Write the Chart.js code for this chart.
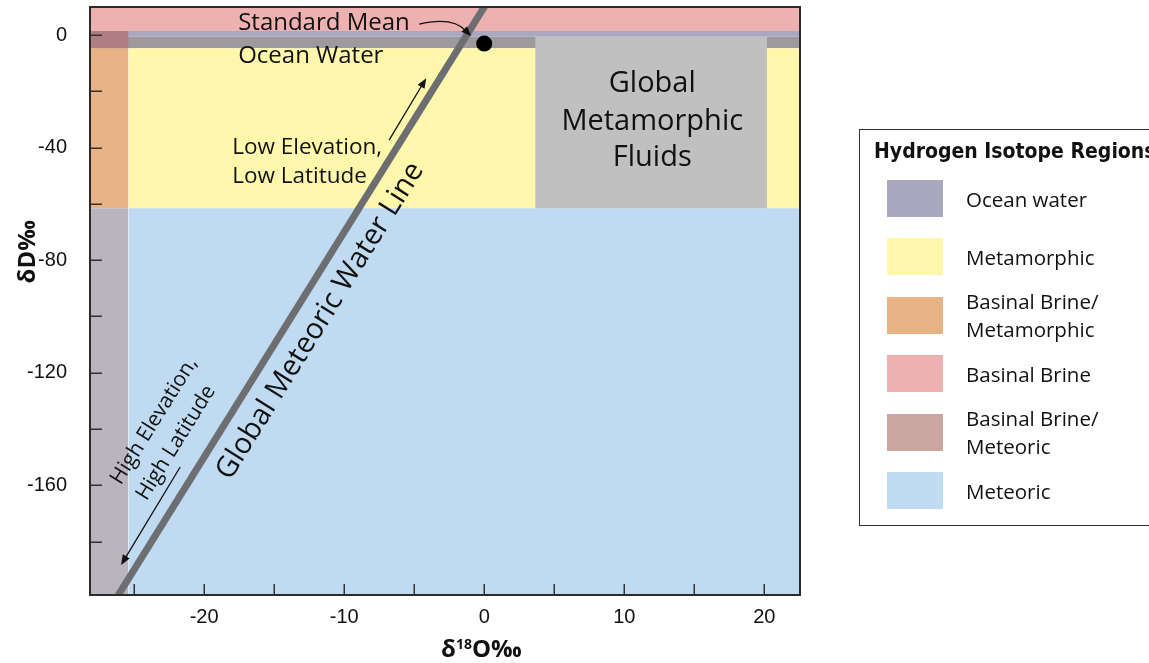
<!DOCTYPE html>
<html>
<head>
<meta charset="utf-8">
<title>Hydrogen Isotope Regions</title>
<script src="https://cdn.jsdelivr.net/npm/chart.js@4.4.1/dist/chart.umd.min.js"></script>
<style>
  html, body { margin: 0; padding: 0; background: #fff; }
  #wrap { position: relative; width: 1149px; height: 663px; overflow: hidden; }
  #c { position: absolute; left: 0; top: 0; }
  #legend {
    position: absolute; left: 859px; top: 129px; width: 330px; height: 397px;
    border: 1.5px solid #333; box-sizing: border-box; color: #111;
    font-family: "Open Sans", "Noto Sans", sans-serif;
  }
  #legend .ttl {
    position: absolute; left: 14px; top: 7px; white-space: nowrap;
    font-family: "DejaVu Sans Condensed", "DejaVu Sans", sans-serif;
    font-weight: bold; font-size: 21px; line-height: 28px; color: #111;
  }
  #legend .sw { position: absolute; left: 27px; width: 56px; height: 37px; }
  #legend .lb {
    position: absolute; left: 106px; font-size: 20.5px; line-height: 28px;
    white-space: nowrap; transform: translateY(-50%);
  }
</style>
</head>
<body>
<div id="wrap">
  <canvas id="c" width="1149" height="663"></canvas>
  <div id="legend"><div class="ttl">Hydrogen Isotope Regions</div></div>
</div>
<script>
// Axis ranges (δ18O ‰ on x, δD ‰ on y)
const xRange = [-28.15, 22.55];
const yRange = [-199, 10];

// Tick positions and their printed labels
const xTickValues = [-25, -20, -15, -10, -5, 0, 5, 10, 15, 20];
const xTickLabels = ['', '-20', '', '-10', '', '0', '', '10', '', '20'];
const yTickValues = [-180, -160, -140, -120, -100, -80, -60, -40, -20, 0];
const yTickLabels = ['', '-160', '', '-120', '', '-80', '', '-40', '', '0'];

// Isotope regions as rectangles: x from regionX0 to regionX1, y from regionY0 to regionY1
// (first entry is drawn on top)
const regionNames  = ['Global Metamorphic Fluids', 'Basinal Brine/Ocean water', 'Meteoric', 'Basinal Brine/Meteoric',
                      'Metamorphic', 'Basinal Brine/Metamorphic', 'Ocean water (core)', 'Ocean water', 'Basinal Brine'];
const regionX0     = [3.64, -28.15, -25.4, -28.15, -25.4, -28.15, -28.15, -28.15, -28.15];
const regionX1     = [20.2, -25.4, 22.55, -25.4, 22.55, -25.4, 22.55, 22.55, 22.55];
const regionY0     = [-61.5, -4.7, -199, -199, -61.5, -61.5, -4.7, -0.6, 1.5];
const regionY1     = [-0.5, 1.5, -61.5, -61.5, -4.7, -4.7, -0.6, 1.5, 10];
const regionColors = ['#c0c0c1', '#af7e82', '#c0dbf1', '#bab4bf', '#fff7ac', '#e8b384', '#9e999d', '#aaa7c0', '#ecb1b0'];

// Global Meteoric Water Line end points
const gmwlX = [-26.15, 0.05];
const gmwlY = [-199.2, 10.4];

// Standard Mean Ocean Water point
const smowX = [0];
const smowY = [-3];

// Legend entries
const legendLabels = ['Ocean water', 'Metamorphic', 'Basinal Brine/\nMetamorphic', 'Basinal Brine',
                      'Basinal Brine/\nMeteoric', 'Meteoric'];
const legendColors = ['#aaa7c0', '#fff7ac', '#e8b384', '#ecb1b0', '#c9a6a2', '#c0dbf1'];

// ---- legend (HTML box to the right of the plot) ----
const legendEl = document.getElementById('legend');
legendLabels.forEach((txt, i) => {
  const top = 50 + i * 58.4;
  const sw = document.createElement('div');
  sw.className = 'sw';
  sw.style.top = top + 'px';
  sw.style.background = legendColors[i];
  legendEl.appendChild(sw);
  const lb = document.createElement('div');
  lb.className = 'lb';
  lb.style.top = (top + 18.5) + 'px';
  lb.innerHTML = txt.split('\n').join('<br>');
  legendEl.appendChild(lb);
});

// ---- datasets ----
const datasets = [];
datasets.push({
  label: 'SMOW', type: 'scatter',
  data: smowX.map((x, i) => ({ x, y: smowY[i] })),
  pointRadius: 8, pointHoverRadius: 8, backgroundColor: '#000', borderWidth: 0
});
datasets.push({
  label: 'Global Meteoric Water Line', type: 'line',
  data: gmwlX.map((x, i) => ({ x, y: gmwlY[i] })),
  borderColor: '#6d6e71', borderWidth: 7, borderCapStyle: 'butt',
  pointRadius: 0, fill: false, tension: 0
});
regionNames.forEach((name, i) => {
  datasets.push({
    label: name, type: 'line',
    data: [{ x: regionX0[i], y: regionY1[i] }, { x: regionX1[i], y: regionY1[i] }],
    borderWidth: 0, pointRadius: 0, tension: 0,
    backgroundColor: regionColors[i],
    fill: { value: regionY0[i] }
  });
});

// ---- axis ticks, frame, titles and notes ----
const SANS = '"Open Sans", "Noto Sans", sans-serif';
function arrowHead(ctx, x, y, ang, len, half) {
  ctx.beginPath();
  ctx.moveTo(x, y);
  ctx.lineTo(x - len * Math.cos(ang) + half * Math.sin(ang), y - len * Math.sin(ang) - half * Math.cos(ang));
  ctx.lineTo(x - len * Math.cos(ang) - half * Math.sin(ang), y - len * Math.sin(ang) + half * Math.cos(ang));
  ctx.closePath();
  ctx.fill();
}
function straightArrow(ctx, x0, y0, x1, y1) {
  const ang = Math.atan2(y1 - y0, x1 - x0);
  ctx.beginPath();
  ctx.moveTo(x0, y0);
  ctx.lineTo(x1 - 8 * Math.cos(ang), y1 - 8 * Math.sin(ang));
  ctx.stroke();
  arrowHead(ctx, x1, y1, ang, 10, 4);
}

const overlay = {
  id: 'overlay',
  afterDatasetsDraw(chart) {
    const { ctx, chartArea: a, scales: { x, y } } = chart;
    const px = v => x.getPixelForValue(v);
    const py = v => y.getPixelForValue(v);
    ctx.save();

    // tick marks pointing into the plot
    ctx.strokeStyle = '#333';
    ctx.lineWidth = 1.5;
    ctx.beginPath();
    yTickValues.forEach(v => {
      const yy = Math.round(py(v)) + 0.25;
      ctx.moveTo(a.left, yy); ctx.lineTo(a.left + 12, yy);
    });
    xTickValues.forEach(v => {
      const xx = Math.round(px(v)) + 0.25;
      ctx.moveTo(xx, a.bottom); ctx.lineTo(xx, a.bottom - 11);
    });
    ctx.stroke();

    // frame
    ctx.strokeStyle = '#2b2b2b';
    ctx.lineWidth = 2;
    ctx.strokeRect(a.left, a.top, a.right - a.left, a.bottom - a.top);

    ctx.fillStyle = '#111';
    ctx.strokeStyle = '#111';

    // Standard Mean Ocean Water note with curved arrow
    ctx.font = '24px ' + SANS;
    ctx.textAlign = 'left';
    ctx.textBaseline = 'alphabetic';
    ctx.fillText('Standard Mean', px(-17.57), py(1.78));
    ctx.fillText('Ocean Water', px(-17.57), py(-10.05));
    {
      const sx = px(-4.64), sy = py(3.9), ex = px(-0.93), ey = py(-0.36);
      const cx = sx + 33, cy = sy - 8;
      ctx.lineWidth = 1.3;
      const ang = Math.atan2(ey - cy, ex - cx);
      ctx.beginPath();
      ctx.moveTo(sx, sy);
      ctx.quadraticCurveTo(cx, cy, ex - 7 * Math.cos(ang), ey - 7 * Math.sin(ang));
      ctx.stroke();
      arrowHead(ctx, ex, ey, ang, 10, 4);
    }

    // Global Metamorphic Fluids
    ctx.font = '29px ' + SANS;
    ctx.textAlign = 'center';
    ctx.fillText('Global', px(12.0), py(-20.25));
    ctx.fillText('Metamorphic', px(12.0), py(-33.75));
    ctx.fillText('Fluids', px(12.0), py(-46.5));

    // Low elevation note and arrow
    ctx.font = '22.5px ' + SANS;
    ctx.textAlign = 'left';
    ctx.fillText('Low Elevation,', px(-18.0), py(-42.3));
    ctx.fillText('Low Latitude', px(-18.0), py(-52.6));
    ctx.lineWidth = 1.3;
    straightArrow(ctx, px(-6.79), py(-37.3), px(-4.14), py(-15.3));

    // rotated notes follow the slope of the meteoric water line
    const ang = Math.atan2(py(gmwlY[1]) - py(gmwlY[0]), px(gmwlX[1]) - px(gmwlX[0]));
    function rotText(str, dx, dy, size) {
      ctx.save();
      ctx.translate(px(dx), py(dy));
      ctx.rotate(ang);
      ctx.font = size + 'px ' + SANS;
      ctx.textAlign = 'center';
      ctx.textBaseline = 'middle';
      ctx.fillText(str, 0, 0);
      ctx.restore();
    }
    rotText('Global Meteoric Water Line', -11.71, -101.6, 29);
    rotText('High Elevation,', -23.57, -137.1, 21);
    rotText('High Latitude', -22.0, -144.9, 21);
    straightArrow(ctx, px(-21.71), py(-153.5), px(-25.93), py(-188.3));

    // axis titles
    ctx.font = 'bold 24px ' + SANS;
    ctx.save();
    ctx.translate(28, py(-77));
    ctx.rotate(-Math.PI / 2);
    ctx.textAlign = 'center';
    ctx.textBaseline = 'middle';
    ctx.fillText('δD‰', 0, 0);
    ctx.restore();

    {
      const parts = [['δ', 24, 0], ['18', 14, -8], ['O‰', 24, 0]];
      let total = 0;
      parts.forEach(p => { ctx.font = 'bold ' + p[1] + 'px ' + SANS; total += ctx.measureText(p[0]).width; });
      let cx = px(-0.2) - total / 2;
      const base = 657;
      ctx.textAlign = 'left';
      ctx.textBaseline = 'alphabetic';
      parts.forEach(p => {
        ctx.font = 'bold ' + p[1] + 'px ' + SANS;
        ctx.fillText(p[0], cx, base + p[2]);
        cx += ctx.measureText(p[0]).width;
      });
    }
    ctx.restore();
  }
};

new Chart(document.getElementById('c'), {
  type: 'line',
  data: { datasets },
  options: {
    responsive: false,
    animation: false,
    events: [],
    layout: { autoPadding: false, padding: { left: 0, top: 7, right: 349, bottom: 0 } },
    plugins: { legend: { display: false }, tooltip: { enabled: false } },
    scales: {
      x: {
        type: 'linear', position: 'bottom', min: xRange[0], max: xRange[1],
        grid: { display: false, drawTicks: false }, border: { display: false },
        afterBuildTicks: s => { s.ticks = xTickValues.map(v => ({ value: v })); },
        afterFit: s => { s.height = 68; s.paddingLeft = 0; s.paddingRight = 0; },
        ticks: {
          autoSkip: false, maxRotation: 0, padding: 10, color: '#111',
          font: { family: '"Liberation Sans", Arial, sans-serif', size: 20 },
          callback: (v) => { const i = xTickValues.indexOf(v); return i >= 0 ? xTickLabels[i] : ''; }
        }
      },
      y: {
        type: 'linear', position: 'left', min: yRange[0], max: yRange[1],
        grid: { display: false, drawTicks: false }, border: { display: false },
        afterBuildTicks: s => { s.ticks = yTickValues.map(v => ({ value: v })); },
        afterFit: s => { s.width = 90; s.paddingTop = 0; s.paddingBottom = 0; },
        ticks: {
          autoSkip: false, padding: 23, color: '#111',
          font: { family: '"Liberation Sans", Arial, sans-serif', size: 20 },
          callback: (v) => { const i = yTickValues.indexOf(v); return i >= 0 ? yTickLabels[i] : ''; }
        }
      }
    }
  },
  plugins: [overlay]
});
</script>
</body>
</html>
